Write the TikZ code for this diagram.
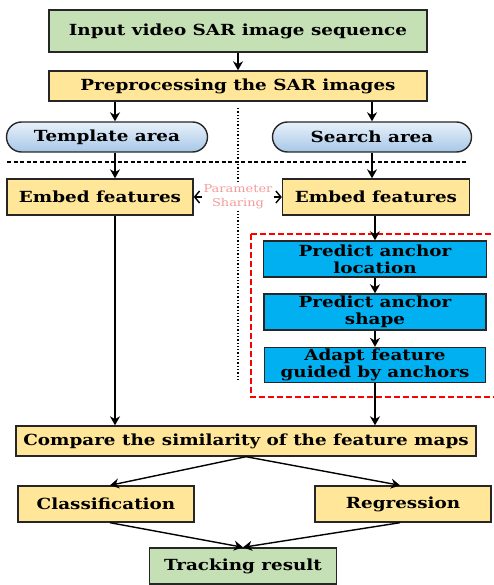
\documentclass[tikz,border=0pt]{standalone}
\usepackage{fontspec}
\setmainfont{DejaVu Serif}[FakeStretch=1.2]
\usepackage{tikz}
\usetikzlibrary{arrows.meta}
\definecolor{boxgreen}{HTML}{C5E0B4}
\definecolor{boxyellow}{HTML}{FFE699}
\definecolor{boxcyan}{HTML}{00B0F0}
\definecolor{pilltop}{HTML}{E8F1FA}
\definecolor{pillbot}{HTML}{A7C7E7}
\definecolor{sharepink}{HTML}{F49A9A}
\tikzset{
  stepbox/.style={draw=black!85,line width=1.4pt,font=\bfseries\fontsize{15.3}{16}\selectfont,
    inner sep=0pt,align=center},
  greenbox/.style={stepbox,fill=boxgreen},
  yellowbox/.style={stepbox,fill=boxyellow},
  cyanbox/.style={stepbox,fill=boxcyan,font=\bfseries\fontsize{15.3}{17}\selectfont},
  areapill/.style={stepbox,top color=pilltop,bottom color=pillbot,rounded corners=15pt},
  flow/.style={line width=1.4pt,-{Stealth[length=9pt,width=10pt]}},
  sharetip/.style={line width=1.4pt,-{Straight Barb[length=5pt,width=12pt]}},
}
\begin{document}
\begin{tikzpicture}[x=1pt,y=-1pt]
  \useasboundingbox (0,0) rectangle (494,585);
  \node[greenbox,minimum width=378pt,minimum height=42pt] (input) at (238,31) {Input video SAR image sequence};
  \node[yellowbox,minimum width=378pt,minimum height=30pt] (prep) at (238,86) {Preprocessing the SAR images};
  \node[areapill,minimum width=201pt,minimum height=30pt] (templ) at (107,137) {Template area};
  \node[areapill,minimum width=199pt,minimum height=30pt] (search) at (372,137) {Search area};
  \node[yellowbox,minimum width=186pt,minimum height=36pt] (embedL) at (100,197) {Embed features};
  \node[yellowbox,minimum width=187pt,minimum height=36pt] (embedR) at (376,197) {Embed features};
  \node[font=\fontsize{10.8}{14.5}\selectfont,text=sharepink,align=center,inner sep=1pt] (share) at (238,197) {Parameter\\Sharing};
  \node[cyanbox,minimum width=223pt,minimum height=36pt] (loc) at (375,259) {Predict anchor\\location};
  \node[cyanbox,minimum width=222pt,minimum height=36pt] (shape) at (375,312) {Predict anchor\\shape};
  \node[cyanbox,minimum width=221pt,minimum height=35pt] (adapt) at (375,365) {Adapt feature\\guided by anchors};
  \node[yellowbox,minimum width=460pt,minimum height=30pt] (comp) at (246,441) {Compare the similarity of the feature maps};
  \node[yellowbox,minimum width=176pt,minimum height=36pt] (cls) at (106,504) {Classification};
  \node[yellowbox,minimum width=176pt,minimum height=36pt] (reg) at (403,504) {Regression};
  \node[greenbox,minimum width=187pt,minimum height=36pt] (track) at (243,566) {Tracking result};
  % separators
  \draw[line width=1.3pt,dash pattern=on 4pt off 2.5pt] (7,162) -- (466,162);
  \draw[line width=1.3pt,dotted] (238,108) -- (share.north);
  \draw[line width=1.3pt,dotted] (share.south) -- (238,380);
  \draw[red,line width=1.8pt,dash pattern=on 6pt off 3pt] (251,234) rectangle (496,397);
  % arrows
  \draw[flow] (input) -- (prep);
  \draw[flow] ([xshift=8pt]prep.south -| templ.north) -- ([xshift=8pt]templ.north);
  \draw[flow] (prep.south -| search.north) -- (search.north);
  \draw[flow] ([xshift=8pt]templ.south) -- ([xshift=8pt]embedL.north -| templ.south);
  \draw[flow] (search) -- (search |- embedR.north);
  \draw[sharetip] (share) -- (embedL);
  \draw[sharetip] (share) -- (embedR);
  \draw[flow] (embedR.south -| loc.north) -- (loc.north);
  \draw[flow] (loc) -- (shape);
  \draw[flow] (shape) -- (adapt);
  \draw[flow] (adapt.south) -- (adapt.south |- comp.north);
  \draw[flow] ([xshift=15pt]embedL.south) -- ([xshift=15pt]embedL.south |- comp.north);
  \draw[flow] (comp.south) -- ([xshift=4pt]cls.north);
  \draw[flow] (comp.south) -- ([xshift=-3pt]reg.north);
  \draw[flow] ([xshift=4pt]cls.south) -- (track.north);
  \draw[flow] ([xshift=-3pt]reg.south) -- (track.north);
\end{tikzpicture}
\end{document}
